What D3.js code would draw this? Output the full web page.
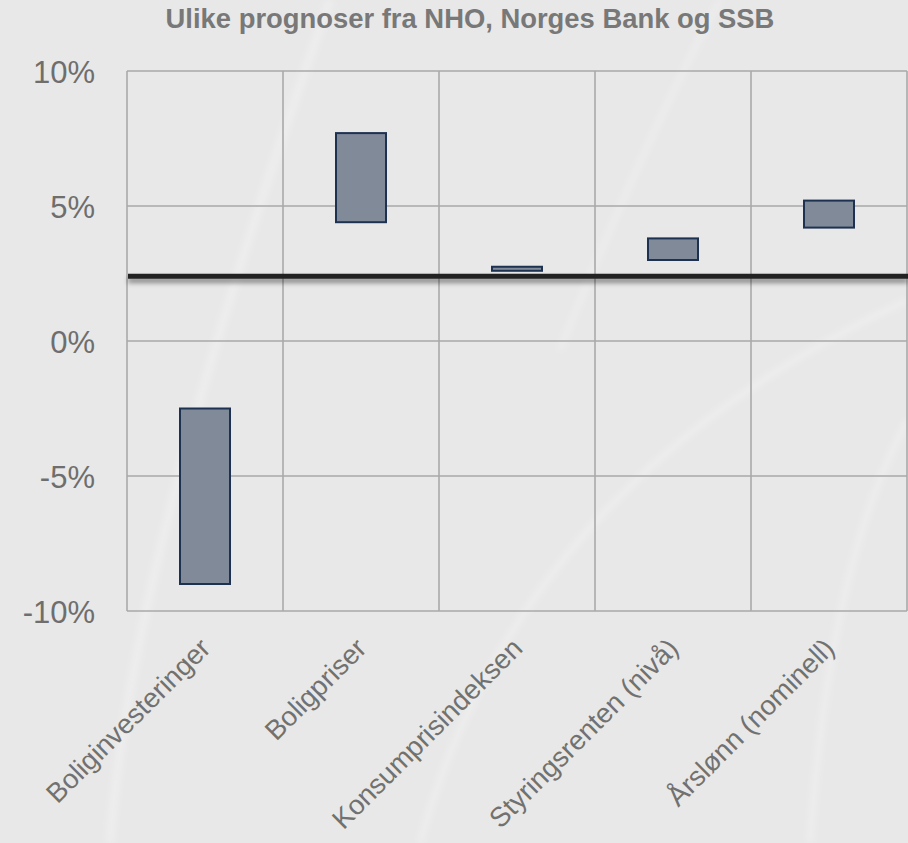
<!DOCTYPE html>
<html>
<head>
<meta charset="utf-8">
<script src="https://cdn.jsdelivr.net/npm/d3@7"></script>
<style>
  html, body { margin: 0; padding: 0; background: #e8e8e8; }
  svg { display: block; font-family: "Liberation Sans", Arial, sans-serif; }
</style>
</head>
<body>
<div id="chart"></div>
<script>
const categories = ["Boliginvesteringer", "Boligpriser", "Konsumprisindeksen", "Styringsrenten (nivå)", "Årslønn (nominell)"];
const lowValues = [-9.0, 4.4, 2.6, 3.0, 4.2];
const highValues = [-2.5, 7.7, 2.75, 3.8, 5.2];
const refLine = 2.4;
const yTicks = [-10, -5, 0, 5, 10];
const title = "Ulike prognoser fra NHO, Norges Bank og SSB";

const width = 908;
const height = 843;
const margin = {top: 71, bottom: 232, left: 127, right: 1};

const svg = d3.select("#chart")
    .append("svg")
    .attr("width", width)
    .attr("height", height);

const defs = svg.append("defs");
const shadow = defs.append("filter")
    .attr("id", "shadow")
    .attr("filterUnits", "userSpaceOnUse")
    .attr("x", 0).attr("y", 0)
    .attr("width", width).attr("height", height);
shadow.append("feDropShadow")
    .attr("dx", 0).attr("dy", 4)
    .attr("stdDeviation", 2.5)
    .attr("flood-color", "#000")
    .attr("flood-opacity", 0.45);
const soft = defs.append("filter").attr("id", "soft");
soft.append("feGaussianBlur").attr("stdDeviation", 3);

// background
svg.append("rect")
    .attr("width", width).attr("height", height)
    .attr("fill", "#e8e8e8");

// faint decorative swooshes
const swoosh = svg.append("g")
    .attr("fill", "none")
    .attr("stroke", "#ffffff")
    .attr("stroke-opacity", 0.25)
    .attr("filter", "url(#soft)");
swoosh.append("path").attr("d", "M110,843 Q130,560 330,0").attr("stroke-width", 8);
swoosh.append("path").attr("d", "M420,843 Q520,480 908,300").attr("stroke-width", 6);
swoosh.append("path").attr("d", "M810,843 Q830,560 908,420").attr("stroke-width", 6);
swoosh.append("path").attr("d", "M560,350 Q640,150 720,0").attr("stroke-width", 5);

const x = d3.scaleBand()
    .domain(categories)
    .range([margin.left, width - margin.right])
    .padding(0);

const y = d3.scaleLinear()
    .domain([-10, 10])
    .range([height - margin.bottom, margin.top]);

// grid
const grid = svg.append("g")
    .attr("stroke", "#a9a9a9")
    .attr("stroke-width", 1.6);
grid.selectAll("line.h")
    .data(yTicks)
    .join("line")
    .attr("class", "h")
    .attr("x1", margin.left).attr("x2", width - margin.right)
    .attr("y1", d => y(d)).attr("y2", d => y(d));
const xEdges = categories.map(c => x(c)).concat([width - margin.right]);
grid.selectAll("line.v")
    .data(xEdges)
    .join("line")
    .attr("class", "v")
    .attr("x1", d => d).attr("x2", d => d)
    .attr("y1", y(10)).attr("y2", y(-10));

// y axis labels
svg.append("g")
    .selectAll("text")
    .data(yTicks)
    .join("text")
    .attr("x", 95)
    .attr("y", d => y(d) + 1)
    .attr("dominant-baseline", "central")
    .attr("text-anchor", "end")
    .attr("fill", "#6e6e6e")
    .attr("font-size", "31px")
    .text(d => d + "%");

// bars
const barW = 50;
svg.append("g")
    .selectAll("rect")
    .data(categories)
    .join("rect")
    .attr("x", d => x(d) + x.bandwidth() / 2 - barW / 2)
    .attr("y", (d, i) => y(highValues[i]))
    .attr("width", barW)
    .attr("height", (d, i) => y(lowValues[i]) - y(highValues[i]))
    .attr("fill", "#808a99")
    .attr("stroke", "#1d3150")
    .attr("stroke-width", 2);

// reference line
svg.append("line")
    .attr("x1", margin.left + 1)
    .attr("x2", width)
    .attr("y1", y(refLine))
    .attr("y2", y(refLine))
    .attr("stroke", "#222222")
    .attr("stroke-width", 5)
    .attr("filter", "url(#shadow)");

// category labels
svg.append("g")
    .selectAll("text")
    .data(categories)
    .join("text")
    .attr("transform", d => `translate(${x(d) + x.bandwidth() / 2 + 7},${y(-10) + 39}) rotate(-45)`)
    .attr("text-anchor", "end")
    .attr("fill", "#717171")
    .attr("font-size", "27.5px")
    .text(d => d);

// title
svg.append("text")
    .attr("x", 470)
    .attr("y", 28)
    .attr("text-anchor", "middle")
    .attr("fill", "#787878")
    .attr("font-weight", "bold")
    .attr("font-size", "27.4px")
    .text(title);
</script>
</body>
</html>
